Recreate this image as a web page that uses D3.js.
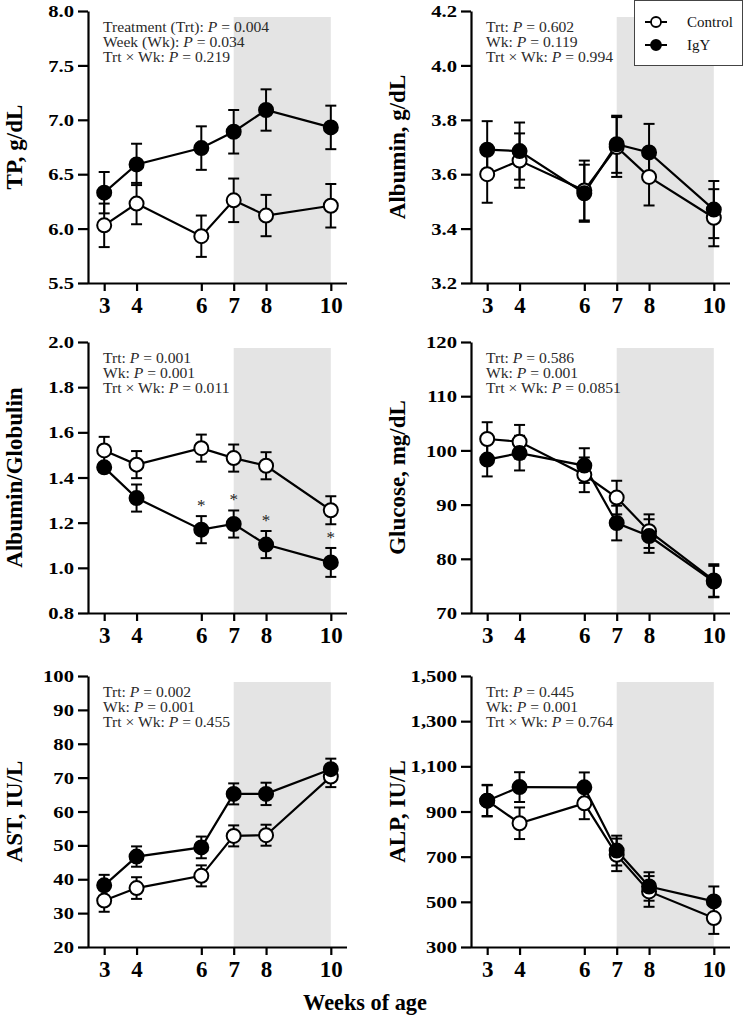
<!DOCTYPE html>
<html>
<head>
<meta charset="utf-8">
<script src="https://cdn.jsdelivr.net/npm/d3@7"></script>
<style>
  html, body { margin: 0; padding: 0; background: #fff; }
  svg { display: block; }
</style>
</head>
<body>
<svg id="chart" width="744" height="1018"></svg>
<script>
// ---------------- DATA ----------------
const weeks = [3, 4, 6, 7, 8, 10];
const seriesNames = ["Control", "IgY"];

const tpControl = [6.03, 6.23, 5.93, 6.26, 6.12, 6.21];
const tpControlSE = [0.20, 0.19, 0.19, 0.20, 0.19, 0.20];
const tpIgY = [6.33, 6.59, 6.74, 6.89, 7.09, 6.93];
const tpIgYSE = [0.19, 0.19, 0.20, 0.20, 0.19, 0.20];

const albControl = [3.60, 3.65, 3.54, 3.70, 3.59, 3.44];
const albControlSE = [0.105, 0.10, 0.11, 0.11, 0.105, 0.105];
const albIgY = [3.69, 3.685, 3.53, 3.71, 3.68, 3.47];
const albIgYSE = [0.105, 0.105, 0.105, 0.105, 0.105, 0.105];

const agControl = [1.52, 1.457, 1.53, 1.486, 1.452, 1.255];
const agControlSE = [0.06, 0.06, 0.06, 0.06, 0.06, 0.062];
const agIgY = [1.445, 1.309, 1.169, 1.194, 1.103, 1.024];
const agIgYSE = [0.02, 0.06, 0.06, 0.06, 0.06, 0.064];
const agSignificantWeeks = [6, 7, 8, 10];

const gluControl = [102.1, 101.6, 95.5, 91.3, 85.1, 76.0];
const gluControlSE = [3.1, 3.1, 3.2, 3.1, 3.1, 3.0];
const gluIgY = [98.3, 99.5, 97.2, 86.6, 84.2, 75.8];
const gluIgYSE = [3.1, 3.2, 3.2, 3.2, 3.1, 2.9];

const astControl = [33.7, 37.4, 41.0, 52.8, 53.0, 70.3];
const astControlSE = [3.3, 3.2, 3.1, 3.1, 3.1, 3.1];
const astIgY = [38.2, 46.7, 49.4, 65.2, 65.2, 72.5];
const astIgYSE = [3.1, 3.0, 3.2, 3.1, 3.3, 3.1];

const alpControl = [948, 848, 936, 708, 546, 428];
const alpControlSE = [70, 70, 70, 72, 68, 70];
const alpIgY = [948, 1008, 1007, 727, 568, 502];
const alpIgYSE = [68, 66, 66, 66, 63, 66];

const yLabels = ["TP, g/dL", "Albumin, g/dL", "Albumin/Globulin", "Glucose, mg/dL", "AST, IU/L", "ALP, IU/L"];
const yTicks = [
  [5.5, 6.0, 6.5, 7.0, 7.5, 8.0],
  [3.2, 3.4, 3.6, 3.8, 4.0, 4.2],
  [0.8, 1.0, 1.2, 1.4, 1.6, 1.8, 2.0],
  [70, 80, 90, 100, 110, 120],
  [20, 30, 40, 50, 60, 70, 80, 90, 100],
  [300, 500, 700, 900, 1100, 1300, 1500]
];
const yFormats = [".1f", ".1f", ".1f", "d", "d", ","];
const trtP = ["0.004", "0.602", "0.001", "0.586", "0.002", "0.445"];
const wkP = ["0.034", "0.119", "0.001", "0.001", "0.001", "0.001"];
const intP = ["0.219", "0.994", "0.011", "0.0851", "0.455", "0.764"];
const xTitle = "Weeks of age";
const shadeWeeks = [7, 10];

const panelData = [
  [tpControl, tpControlSE, tpIgY, tpIgYSE],
  [albControl, albControlSE, albIgY, albIgYSE],
  [agControl, agControlSE, agIgY, agIgYSE],
  [gluControl, gluControlSE, gluIgY, gluIgYSE],
  [astControl, astControlSE, astIgY, astIgYSE],
  [alpControl, alpControlSE, alpIgY, alpIgYSE]
];

// ---------------- LAYOUT ----------------
const serif = '"Liberation Serif", "Times New Roman", serif';
const colX = [88, 471];
const plotW = 259;
const rowY = [[11, 283], [342, 613], [676, 947]];
const R = 7;

const svg = d3.select("#chart");

function drawPanel(i) {
  const col = i % 2, row = Math.floor(i / 2);
  const x0 = colX[col];
  const [yTop, yBot] = rowY[row];
  const ticks = yTicks[i];
  const x = d3.scaleLinear().domain([2.5, 10.5]).range([x0, x0 + plotW]);
  const y = d3.scaleLinear().domain([ticks[0], ticks[ticks.length - 1]]).range([yBot, yTop]);
  const g = svg.append("g");

  // shaded period
  g.append("rect")
    .attr("x", x(shadeWeeks[0])).attr("width", x(shadeWeeks[1]) - x(shadeWeeks[0]))
    .attr("y", yTop + 6).attr("height", yBot - yTop - 6)
    .attr("fill", "#e4e4e4");

  // axes
  const yAxis = g.append("g").attr("transform", `translate(${x0},0)`)
    .call(d3.axisLeft(y).tickValues(ticks).tickFormat(d3.format(yFormats[i])).tickSize(10).tickSizeOuter(0).tickPadding(4));
  const xAxis = g.append("g").attr("transform", `translate(0,${yBot})`)
    .call(d3.axisBottom(x).tickValues(weeks).tickSize(8).tickSizeOuter(0).tickPadding(6));
  [yAxis, xAxis].forEach(a => {
    a.select(".domain").attr("stroke", "#000").attr("stroke-width", 2.2);
    a.selectAll(".tick line").attr("stroke", "#000").attr("stroke-width", 2.2);
  });
  xAxis.select(".domain").attr("d", `M${x0},0.5H${x0 + plotW}`);
  yAxis.selectAll(".tick text")
    .attr("x", null)
    .attr("transform", "translate(-14,0) scale(1.18,1)")
    .attr("font-family", serif).attr("font-weight", "bold").attr("font-size", 17.5)
    .attr("fill", "#000");
  xAxis.selectAll(".tick text")
    .attr("font-family", serif).attr("font-weight", "bold").attr("font-size", 23)
    .attr("fill", "#000");

  // y title
  g.append("text")
    .attr("transform", `translate(${x0 - 66},${(yTop + yBot) / 2}) rotate(-90)`)
    .attr("text-anchor", "middle")
    .attr("font-family", serif).attr("font-weight", "bold").attr("font-size", 23)
    .text(yLabels[i]);

  // annotation
  const names = i === 0 ? ["Treatment (Trt)", "Week (Wk)", "Trt × Wk"] : ["Trt", "Wk", "Trt × Wk"];
  const vals = [trtP[i], wkP[i], intP[i]];
  names.forEach((nm, k) => {
    const t = g.append("text")
      .attr("transform", `translate(${x0 + 15},${yTop + 21 + k * 15}) scale(1.15,1)`)
      .attr("font-family", serif).attr("font-size", 13.6).attr("fill", "#2a2a2a");
    t.append("tspan").text(nm + ": ");
    t.append("tspan").attr("font-style", "italic").text("P");
    t.append("tspan").text(" = " + vals[k]);
  });

  const [cm, cse, im, ise] = panelData[i];
  const series = [
    {vals: cm, se: cse, fill: "#fff"},
    {vals: im, se: ise, fill: "#000"}
  ];

  // error bars
  series.forEach(s => {
    const eb = g.append("g").attr("stroke", "#000").attr("stroke-width", 2);
    weeks.forEach((w, j) => {
      const cx = x(w), hi = y(s.vals[j] + s.se[j]), lo = y(s.vals[j] - s.se[j]);
      eb.append("line").attr("x1", cx).attr("x2", cx).attr("y1", hi).attr("y2", lo);
      eb.append("line").attr("x1", cx - 5.5).attr("x2", cx + 5.5).attr("y1", hi).attr("y2", hi);
      eb.append("line").attr("x1", cx - 5.5).attr("x2", cx + 5.5).attr("y1", lo).attr("y2", lo);
    });
  });
  // lines
  const line = d3.line().x((d, j) => x(weeks[j])).y(d => y(d));
  series.forEach(s => {
    g.append("path").attr("d", line(s.vals)).attr("fill", "none")
      .attr("stroke", "#000").attr("stroke-width", 2.2);
  });
  // markers
  series.forEach(s => {
    g.append("g").selectAll("circle").data(s.vals).join("circle")
      .attr("cx", (d, j) => x(weeks[j])).attr("cy", d => y(d)).attr("r", R)
      .attr("fill", s.fill).attr("stroke", "#000").attr("stroke-width", 2);
  });

  // significance asterisks
  if (i === 2) {
    agSignificantWeeks.forEach(w => {
      const j = weeks.indexOf(w);
      g.append("text")
        .attr("x", x(w)).attr("y", y(im[j] + ise[j]) - 5)
        .attr("text-anchor", "middle")
        .attr("font-family", serif).attr("font-size", 17).attr("fill", "#222")
        .text("*");
    });
  }
}

for (let i = 0; i < 6; i++) drawPanel(i);

// legend
const lg = svg.append("g");
lg.append("rect").attr("x", 634.5).attr("y", 0.5).attr("width", 108).attr("height", 65)
  .attr("fill", "#fff").attr("stroke", "#444").attr("stroke-width", 1);
seriesNames.forEach((nm, k) => {
  const yy = 22 + k * 23;
  lg.append("line").attr("x1", 645).attr("x2", 667).attr("y1", yy).attr("y2", yy)
    .attr("stroke", "#000").attr("stroke-width", 2);
  lg.append("circle").attr("cx", 656).attr("cy", yy).attr("r", 5)
    .attr("fill", k === 0 ? "#fff" : "#000").attr("stroke", "#000").attr("stroke-width", 1.8);
  lg.append("text").attr("x", 687).attr("y", yy + 5)
    .attr("font-family", serif).attr("font-size", 15).attr("fill", "#111")
    .text(nm);
});

// x title
svg.append("text").attr("x", 365).attr("y", 1010).attr("text-anchor", "middle")
  .attr("font-family", serif).attr("font-weight", "bold").attr("font-size", 22.3)
  .text(xTitle);
</script>
</body>
</html>
